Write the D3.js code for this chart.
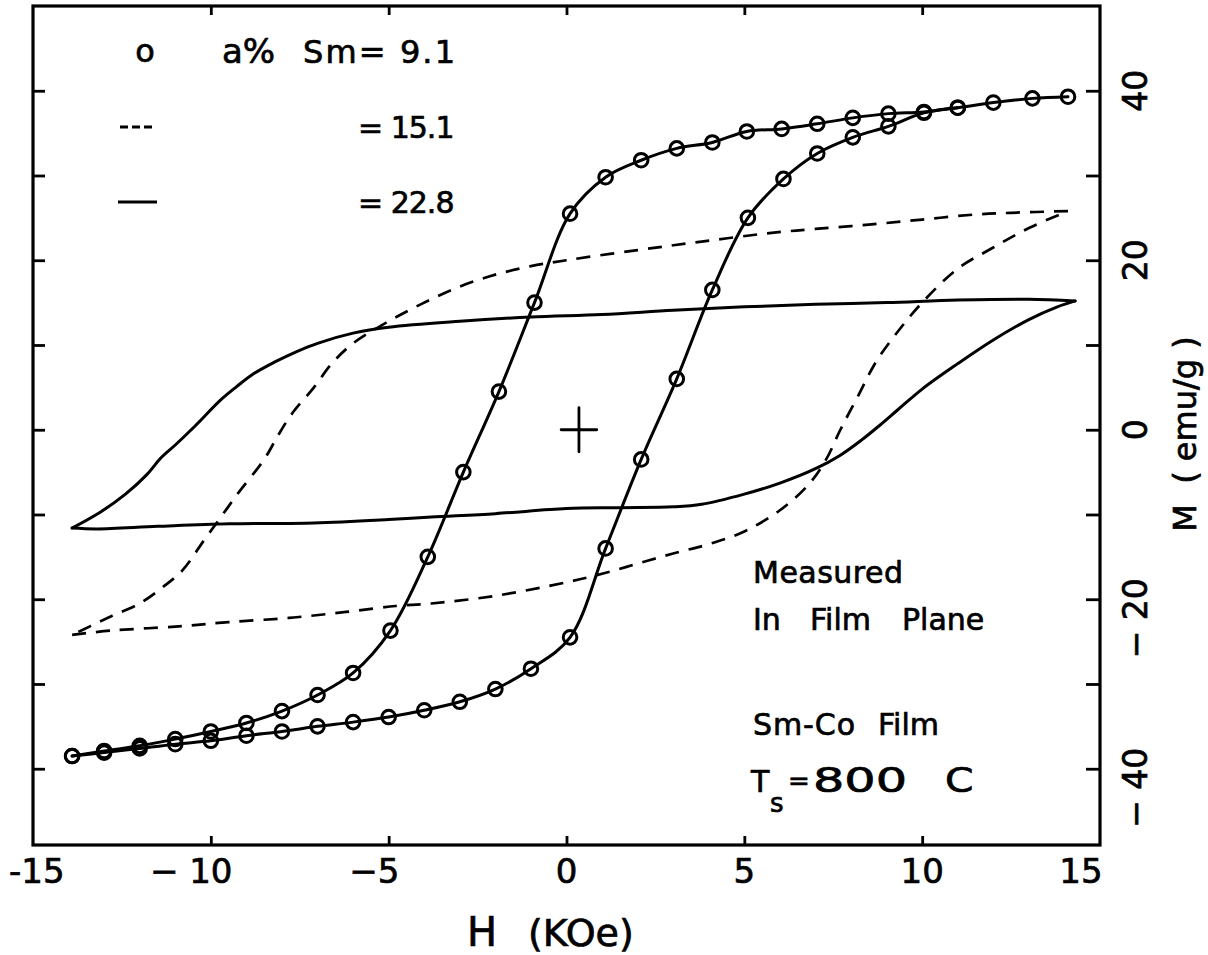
<!DOCTYPE html>
<html><head><meta charset="utf-8">
<script src="https://cdn.jsdelivr.net/npm/d3@7"></script>
<style>
body{margin:0;background:#fff}
text{font-family:"DejaVu Sans","Liberation Sans",sans-serif;fill:#000;stroke:#000;stroke-width:0.7px;white-space:pre}
</style>
</head><body>
<svg id="c" width="1208" height="955"></svg>
<script>
// ---------- data ----------
const hTicks = [-10, -5, 0, 5, 10];
const hLabelValues = [-15, -10, -5, 0, 5, 10, 15];
const hLabelText = ["-15", "\u2212 10", "\u22125", "0", "5", "10", "15"];
const mTicks = [-40, -30, -20, -10, 0, 10, 20, 30, 40];
const mLabelValues = [40, 20, 0, -20, -40];
const mLabelText = ["40", "20", "0", "\u2212 20", "\u2212 40"];

// a% Sm = 9.1  (open circles)  [H kOe, M emu/g]
const sm91Down = [[14.1,39.3],[13.1,39.1],[12.0,38.6],[11.0,38.0],[10.05,37.5],[9.05,37.3],[8.05,36.8],[7.05,36.1],[6.05,35.5],[5.07,35.2],[4.1,33.9],[3.1,33.2],[2.1,31.8],[1.1,29.8],[0.1,25.5],[-0.9,15.0],[-1.9,4.5],[-2.9,-5.0],[-3.9,-15.0],[-4.95,-23.7],[-6.0,-28.7],[-7.0,-31.3],[-8.0,-33.2],[-9.0,-34.6],[-10.0,-35.6],[-11.0,-36.5],[-12.0,-37.3],[-13.0,-37.9],[-13.9,-38.5]];
const sm91Up = [[-13.9,-38.5],[-13.0,-38.1],[-12.0,-37.6],[-11.0,-37.1],[-10.0,-36.7],[-9.0,-36.1],[-8.0,-35.6],[-7.0,-35.0],[-6.0,-34.5],[-5.0,-33.9],[-4.0,-33.1],[-3.0,-32.1],[-2.0,-30.6],[-1.0,-28.2],[0.1,-24.5],[1.1,-14.0],[2.1,-3.5],[3.1,6.0],[4.1,16.5],[5.1,25.0],[6.1,29.6],[7.05,32.6],[8.05,34.5],[9.05,35.8],[10.05,37.4],[11.0,38.0]];

// = 15.1 (dashed)
const sm151Down = [[14.1,25.8],[12.5,25.6],[11.5,25.4],[10,24.8],[8.5,24.2],[7,23.7],[5.7,23.2],[3.8,22.2],[2,21.2],[0,20.0],[-1,19.3],[-2,18.3],[-3,16.9],[-4,15.0],[-5,12.8],[-6,10.2],[-6.6,7.8],[-7.1,5.0],[-7.7,2.0],[-8.1,-0.6],[-8.5,-3.5],[-9.2,-7.3],[-9.7,-10.2],[-10.2,-13.1],[-10.8,-16.6],[-11.3,-18.4],[-12.0,-20.5],[-12.8,-22.0],[-13.4,-23.2],[-13.9,-24.2]];
const sm151Up = [[-13.9,-24.2],[-12.8,-23.7],[-10.9,-23.2],[-9.5,-22.7],[-7.8,-22.2],[-6.2,-21.5],[-4.8,-20.8],[-3.8,-20.5],[-2,-19.6],[0,-18.0],[1,-17.0],[2,-15.8],[3,-14.6],[4,-13.5],[5,-12.0],[6,-9.5],[6.8,-6.5],[7.3,-3.5],[7.7,0],[8.2,4.0],[8.7,8.0],[9.3,11.5],[10,15.0],[11,19.0],[12,21.5],[13,23.8],[14.1,25.8]];

// = 22.8 (solid)
const sm228Down = [[14.3,15.2],[13,15.4],[11,15.3],[9,15.0],[7,14.8],[5,14.5],[3,14.1],[1,13.6],[-1,13.3],[-3,12.8],[-5,12.1],[-6,11.4],[-7,10.2],[-7.6,9.2],[-8.2,8.0],[-8.8,6.6],[-9.3,5.0],[-9.7,3.6],[-10.5,0.2],[-11.0,-1.8],[-11.4,-3.3],[-11.8,-5.3],[-12.4,-7.6],[-13.1,-9.7],[-13.9,-11.6]];
const sm228Up = [[-13.9,-11.6],[-13.2,-11.7],[-11.5,-11.4],[-9.5,-11.1],[-7.1,-11.0],[-5,-10.6],[-3.8,-10.3],[-2,-9.9],[0,-9.3],[1.5,-9.2],[3,-9.1],[3.8,-8.8],[5,-7.6],[6,-6.3],[7,-4.6],[7.7,-3.0],[8.3,-1.2],[8.8,0.5],[9.3,2.3],[10,4.8],[11,7.8],[12,10.6],[13,13.0],[13.8,14.5],[14.3,15.2]];

// origin cross (H, M)
const crossCenter = [0.35, 0];

const legendLabels = ["a%", "Sm= 9.1", "= 15.1", "= 22.8"];

// ---------- scales ----------
const svg = d3.select("#c");
const L = 33, R = 1100, T = 6, B = 845;
const x = d3.scaleLinear().domain([-15, 15]).range([L, R]);
const y = d3.scaleLinear().domain([-49, 50]).range([B, T]);

// ---------- frame & ticks ----------
const ink = "#000";
svg.append("rect").attr("x", L).attr("y", T).attr("width", R - L).attr("height", B - T)
  .attr("fill", "none").attr("stroke", ink).attr("stroke-width", 3.2);

function styleAxis(g){ g.select(".domain").remove(); g.selectAll("line").attr("stroke", ink).attr("stroke-width", 2.8); g.selectAll("text").remove(); }
svg.append("g").attr("transform", `translate(0,${B})`).call(d3.axisBottom(x).tickValues(hTicks).tickSize(-9).tickFormat("")).call(styleAxis);
svg.append("g").attr("transform", `translate(0,${T})`).call(d3.axisTop(x).tickValues(hTicks).tickSize(-9).tickFormat("")).call(styleAxis);
svg.append("g").attr("transform", `translate(${L},0)`).call(d3.axisLeft(y).tickValues(mTicks).tickSize(-12).tickFormat("")).call(styleAxis);
svg.append("g").attr("transform", `translate(${R},0)`).call(d3.axisRight(y).tickValues(mTicks).tickSize(-14).tickFormat("")).call(styleAxis);

// bottom tick labels
const digitW = 34 * 0.636;
hLabelValues.forEach((v, i) => {
  const t = hLabelText[i];
  const nd = t.replace(/[^0-9]/g, "").length;
  let inset = 0;
  if (v === -15) inset = 10;
  if (v === 15) inset = -19;
  svg.append("text").attr("x", x(v) + nd * digitW / 2 + inset).attr("y", 883)
    .attr("text-anchor", "end").attr("font-size", 34).text(t);
});

// right tick labels (rotated)
const rDigitW = 33 * 0.636;
mLabelValues.forEach((v, i) => {
  const t = mLabelText[i];
  const nd = t.replace(/[^0-9]/g, "").length;
  svg.append("text").attr("transform", `translate(1147,${y(v)}) rotate(-90)`)
    .attr("x", nd * rDigitW / 2).attr("text-anchor", "end").attr("font-size", 33).text(t);
});

// axis titles
svg.append("text").attr("x", 467).attr("y", 946).attr("font-size", 40).text("H");
svg.append("text").attr("x", 528).attr("y", 946).attr("font-size", 38).text("(KOe)");
svg.append("text").attr("transform", `translate(1196,434) rotate(-90)`).attr("text-anchor", "middle")
  .attr("font-size", 32).text("M  ( emu/g )");

// ---------- curves ----------
const line = d3.line().x(d => x(d[0])).y(d => y(d[1])).curve(d3.curveCatmullRom.alpha(0.5));
const plot = svg.append("g").attr("fill", "none").attr("stroke", ink).attr("stroke-linecap", "round");

[sm228Down, sm228Up].forEach(s => plot.append("path").attr("d", line(s)).attr("stroke-width", 3));
[sm151Down, sm151Up].forEach(s => plot.append("path").attr("d", line(s)).attr("stroke-width", 2.7).attr("stroke-dasharray", "14,10").attr("stroke-linecap", "butt"));
[sm91Down, sm91Up].forEach(s => plot.append("path").attr("d", line(s)).attr("stroke-width", 3));
plot.selectAll("circle.m").data(sm91Down.concat(sm91Up)).join("circle")
  .attr("cx", d => x(d[0])).attr("cy", d => y(d[1])).attr("r", 6.8).attr("stroke-width", 3);

// cross
const cx0 = x(crossCenter[0]), cy0 = y(crossCenter[1]);
plot.append("line").attr("x1", x(crossCenter[0] - 0.5)).attr("x2", x(crossCenter[0] + 0.5)).attr("y1", cy0).attr("y2", cy0).attr("stroke-width", 2.8);
plot.append("line").attr("x1", cx0).attr("x2", cx0).attr("y1", y(crossCenter[1] + 2.6)).attr("y2", y(crossCenter[1] - 2.6)).attr("stroke-width", 2.8);

// ---------- legend ----------
const lg = svg.append("g");
lg.append("text").attr("x", 145).attr("y", 62).attr("text-anchor", "middle").attr("font-size", 32).text("o");
lg.append("text").attr("x", 222).attr("y", 63).attr("font-size", 34).text(legendLabels[0]);
lg.append("text").attr("x", 303).attr("y", 63).attr("font-size", 32).attr("textLength", 152).text(legendLabels[1]);
lg.append("line").attr("x1", 120).attr("x2", 156).attr("y1", 127).attr("y2", 127).attr("stroke", ink).attr("stroke-width", 2.8).attr("stroke-dasharray", "8,4");
lg.append("text").attr("x", 358).attr("y", 138).attr("font-size", 30).attr("letter-spacing", -1).text(legendLabels[2]);
lg.append("line").attr("x1", 118).attr("x2", 157).attr("y1", 202).attr("y2", 202).attr("stroke", ink).attr("stroke-width", 3.2);
lg.append("text").attr("x", 358).attr("y", 213).attr("font-size", 30).attr("letter-spacing", -1).text(legendLabels[3]);

// ---------- notes ----------
const nt = svg.append("g").attr("font-size", 30);
nt.append("text").attr("x", 753).attr("y", 583).attr("textLength", 150).text("Measured");
nt.append("text").attr("x", 753).attr("y", 630).text("In");
nt.append("text").attr("x", 810).attr("y", 630).text("Film");
nt.append("text").attr("x", 902).attr("y", 630).text("Plane");
nt.append("text").attr("x", 753).attr("y", 735).attr("textLength", 102).text("Sm-Co");
nt.append("text").attr("x", 878).attr("y", 735).text("Film");
nt.append("text").attr("x", 751).attr("y", 792).text("T");
nt.append("text").attr("x", 770).attr("y", 812).attr("font-size", 26).text("s");
nt.append("text").attr("x", 788).attr("y", 790).attr("font-size", 26).text("=");
nt.append("text").attr("transform", "translate(813,792) scale(1.45,1)").attr("font-size", 34).text("800");
nt.append("text").attr("transform", "translate(945,792) scale(1.2,1)").attr("font-size", 34).text("C");
</script>
</body></html>
